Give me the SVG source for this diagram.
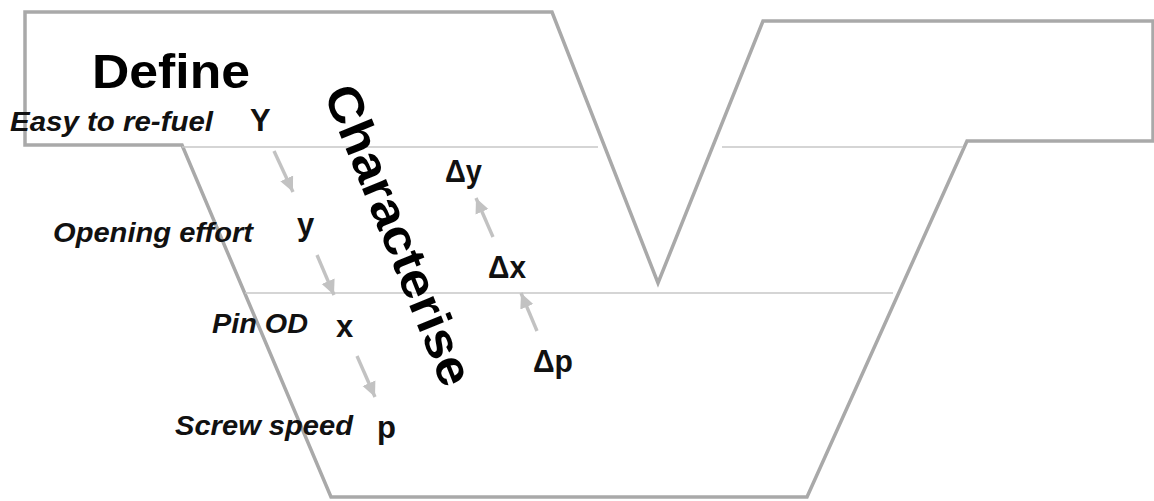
<svg xmlns="http://www.w3.org/2000/svg" width="1154" height="501" viewBox="0 0 1154 501">
<style>
.outline{fill:none;stroke:#a9a9a9;stroke-width:3.5;stroke-linejoin:miter}
.thin{fill:none;stroke:#c8c8c8;stroke-width:1.6}
.lbl{font-family:"Liberation Sans",Arial,sans-serif;font-weight:bold;font-style:italic;font-size:27px;fill:#111}
.var{font-family:"Liberation Sans",Arial,sans-serif;font-weight:bold;font-size:31px;fill:#111}
.big{font-family:"Liberation Sans",Arial,sans-serif;font-weight:bold;font-size:49px;fill:#000}
.arr{stroke:#c2c2c2;stroke-width:3.4;fill:none;marker-end:url(#ah)}
</style>
<defs>
<marker id="ah" markerUnits="userSpaceOnUse" markerWidth="18" markerHeight="16" refX="15" refY="8" orient="auto">
<path d="M0,1 L15,8 L0,15 Z" fill="#c2c2c2"/>
</marker>
</defs>
<rect width="1154" height="501" fill="#ffffff"/>
<g id="frame">
<path class="outline" d="M25,12 H552 L658,283 L763,21 H1153 V141 H967 L807,497 H331 L182,145 H25 Z"/>
<path class="thin" d="M182,147 H598 M722,147 H963 M245,293 H893"/>
</g>
<g id="define"><text class="big" x="92" y="88" textLength="158" lengthAdjust="spacingAndGlyphs">Define</text></g>
<g id="characterise"><text class="big" transform="translate(399,235) rotate(68)" x="0" y="17" text-anchor="middle" textLength="320" lengthAdjust="spacingAndGlyphs">Characterise</text></g>
<g id="node-Y">
<text class="lbl" x="10" y="131" textLength="203" lengthAdjust="spacingAndGlyphs">Easy to re-fuel</text>
<text class="var" x="250" y="131">Y</text>
</g>
<g id="node-y">
<text class="lbl" x="53" y="242" textLength="200" lengthAdjust="spacingAndGlyphs">Opening effort</text>
<text class="var" x="297" y="235">y</text>
</g>
<g id="node-x">
<text class="lbl" x="212" y="333" textLength="96" lengthAdjust="spacingAndGlyphs">Pin OD</text>
<text class="var" x="336" y="337">x</text>
</g>
<g id="node-p">
<text class="lbl" x="175" y="435" textLength="178" lengthAdjust="spacingAndGlyphs">Screw speed</text>
<text class="var" x="377" y="438">p</text>
</g>
<g id="node-dy"><text class="var" x="445" y="182" textLength="37" lengthAdjust="spacingAndGlyphs">Δy</text></g>
<g id="node-dx"><text class="var" x="488" y="278" textLength="38" lengthAdjust="spacingAndGlyphs">Δx</text></g>
<g id="node-dp"><text class="var" x="533" y="372" textLength="40" lengthAdjust="spacingAndGlyphs">Δp</text></g>
<g id="connectors">
<line class="arr" x1="274" y1="151" x2="293" y2="192"/>
<line class="arr" x1="317" y1="255" x2="334" y2="295"/>
<line class="arr" x1="357" y1="356" x2="375" y2="397"/>
<line class="arr" x1="493" y1="237" x2="476" y2="198"/>
<line class="arr" x1="537" y1="331" x2="521" y2="293"/>
</g>
</svg>
